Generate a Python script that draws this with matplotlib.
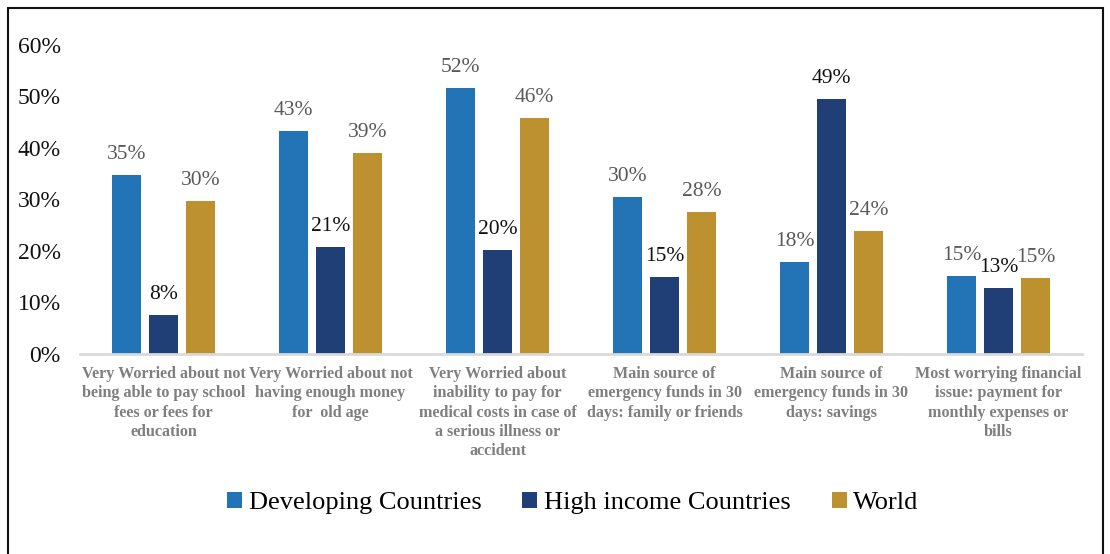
import matplotlib.pyplot as plt
import numpy as np
from matplotlib.patches import Rectangle

plt.rcParams['font.family'] = ['Liberation Serif', 'DejaVu Serif']

categories = [
    "Very Worried about not\nbeing able to pay school\nfees or fees for\neducation",
    "Very Worried about not\nhaving enough money\nfor  old age",
    "Very Worried about\ninability to pay for\nmedical costs in case of\na serious illness or\naccident",
    "Main source of\nemergency funds in 30\ndays: family or friends",
    "Main source of\nemergency funds in 30\ndays: savings",
    "Most worrying financial\nissue: payment for\nmonthly expenses or\nbills",
]
series_names = ["Developing Countries", "High income Countries", "World"]
developing = [34.7, 43.2, 51.6, 30.4, 17.9, 15.2]
high_income = [7.6, 20.8, 20.2, 15.0, 49.4, 12.8]
world = [29.7, 39.0, 45.8, 27.6, 23.9, 14.8]

colors = ["#2373b7", "#213f77", "#be9130"]
label_colors = ["#595959", "#111111", "#595959"]

fig = plt.figure(figsize=(11.1, 5.54), dpi=100)
ax = fig.add_axes([80 / 1110, 0.361, 1002 / 1110, 0.558])

x = np.arange(len(categories))
width = 0.174
step = 0.222
for i, (vals, name) in enumerate(zip([developing, high_income, world], series_names)):
    pos = x + (i - 1) * step
    bars = ax.bar(pos, vals, width, color=colors[i], label=name)
    for b, v in zip(bars, vals):
        ax.annotate(f"{v:.0f}%", (b.get_x() + b.get_width() / 2, v),
                    xytext=(0, 8), textcoords="offset points",
                    ha="center", va="bottom", fontsize=15.5,
                    color=label_colors[i], annotation_clip=False)

ax.set_xlim(-0.5, len(categories) - 0.5)
ax.set_ylim(0, 60)
ax.set_yticks(np.arange(0, 61, 10))
ax.set_yticklabels([f"{t}%" for t in range(0, 61, 10)], fontsize=17, color="#111111")
ax.set_xticks(x)
ax.set_xticklabels(categories, fontsize=11.6, fontweight="bold", color="#7f7f7f",
                   linespacing=1.28)
ax.tick_params(axis="both", length=0)
ax.tick_params(axis="x", pad=8.5)
ax.tick_params(axis="y", pad=14)
for s in ["top", "right", "left"]:
    ax.spines[s].set_visible(False)
ax.spines["bottom"].set_color("#d9d9d9")
ax.spines["bottom"].set_linewidth(2)

fig.legend(loc="center", bbox_to_anchor=(0.516, 0.092), ncol=3, frameon=False,
           fontsize=19, handlelength=0.57, handleheight=0.57, handletextpad=0.25,
           columnspacing=1.55)

# outer frame
fig.patches.append(Rectangle((7.5 / 1110, -0.05), 1095 / 1110, 1 - 7.5 / 554 + 0.05,
                             transform=fig.transFigure, fill=False,
                             edgecolor="#111111", linewidth=1.5))

fig.savefig("out.png", dpi=100)
